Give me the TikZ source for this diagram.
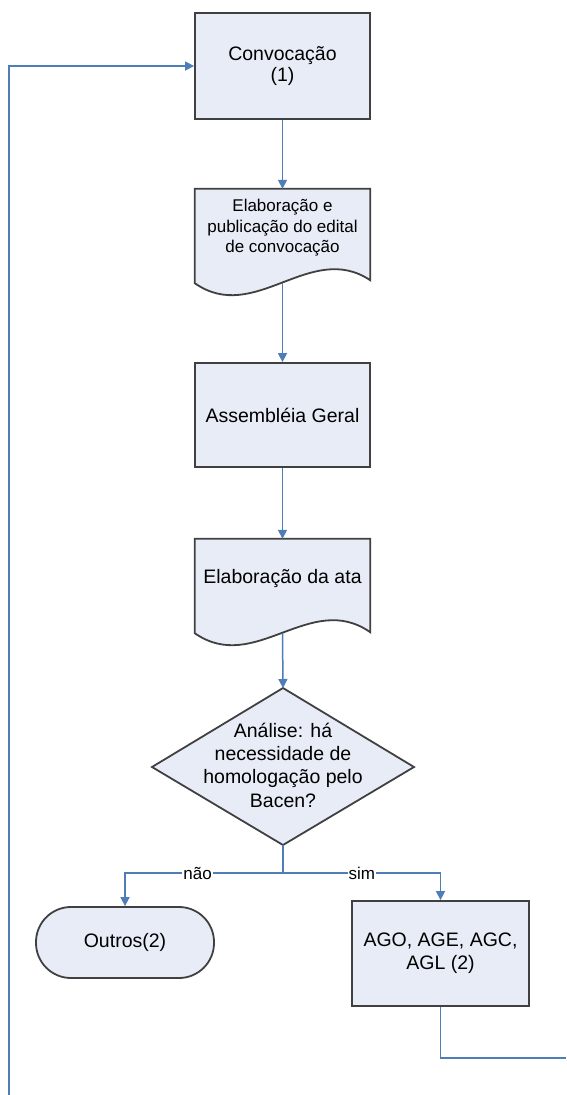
\documentclass[tikz,border=0pt]{standalone}
\usepackage{fontspec}
\setmainfont{Liberation Sans}
\usetikzlibrary{arrows.meta,calc}
\definecolor{boxfill}{HTML}{E8ECF6}
\definecolor{boxline}{HTML}{404040}
\definecolor{conncol}{HTML}{4F7DB8}
\begin{document}
\begin{tikzpicture}[x=1pt,y=-1pt,
  boxst/.style={draw=boxline,line width=1.8pt,fill=boxfill},
  proc/.style={boxst,minimum width=175pt,minimum height=106pt,inner sep=0pt,align=center,font=\fontsize{19.5}{21}\selectfont},
  docframe/.style={draw=none,minimum width=175pt,minimum height=94pt,inner sep=0pt},
  txt/.style={align=center,inner sep=0pt},
  term/.style={boxst,rounded corners=35pt,minimum width=178pt,minimum height=71pt,inner sep=0pt,font=\fontsize{19.5}{21}\selectfont},
  conn/.style={draw=conncol,line width=1.5pt},
  arr/.style={conn,-{Triangle[length=9pt,width=9pt]}},
  lbl/.style={fill=white,inner sep=1pt,font=\fontsize{17}{19}\selectfont},
]
\useasboundingbox (0,0) rectangle (566,1095);
\fill[white] (0,0) rectangle (566,1095);

% nodes
\node[proc] (conv) at (282.5,66) {Convocação\\(1)};

\node[docframe] (d1) at (282.5,236) {};
\draw[boxst] (d1.north west) -- (d1.north east) -- ([yshift=3pt]d1.south east)
  .. controls ([xshift=-60pt,yshift=43pt]d1.south east) and ([xshift=60pt,yshift=-42pt]d1.south west) .. (d1.south west) -- cycle;
\node[txt,font=\fontsize{17}{20.5}\selectfont] (d1t) at (282.5,228) {Elaboração e\\publicação do edital\\de convocação};

\node[proc,minimum height=104pt] (asm) at (282.5,415) {Assembléia Geral};

\node[docframe] (d2) at (282.5,586) {};
\draw[boxst] (d2.north west) -- (d2.north east) -- ([yshift=1pt]d2.south east)
  .. controls ([xshift=-60pt,yshift=43pt]d2.south east) and ([xshift=60pt,yshift=-42pt]d2.south west) .. (d2.south west) -- cycle;
\node[txt,font=\fontsize{19.5}{21}\selectfont] (d2t) at (282.5,578) {Elaboração da ata};

\coordinate (dectop) at (283,688);
\coordinate (decbot) at (283,845);
\draw[boxst] (dectop) -- (414,767) -- (decbot) -- (152,767) -- cycle;
\node[txt,font=\fontsize{19.5}{23.3}\selectfont] (dec) at (283,765) {Análise: há\\necessidade de\\homologação pelo\\Bacen?};

\node[term] (out) at (125,942.5) {Outros(2)};
\node[proc,minimum width=177pt,minimum height=105pt,font=\fontsize{19.5}{23}\selectfont] (ago) at (440.5,953.5) {AGO, AGE, AGC,\\AGL (2)};

\coordinate (branch) at (283,873);
\coordinate (loopL) at (9,1095);
\coordinate (loopR) at (566,1058);

% connectors
\draw[arr] (conv.south) -- (d1.north);
\draw[arr] (d1.south) -- (asm.north);
\draw[arr] (asm.south) -- (d2.north);
\draw[arr] (d2.south) -- (dectop);
\draw[conn] (decbot) -- (branch);
\draw[arr] (branch) -| node[lbl,pos=0.27] {não} (out.north);
\draw[arr] (branch) -| node[lbl,pos=0.25] {sim} (ago.north);
\draw[conn] (ago.south) |- (loopR);
\draw[arr] (loopL) |- (conv.west);
\end{tikzpicture}
\end{document}
